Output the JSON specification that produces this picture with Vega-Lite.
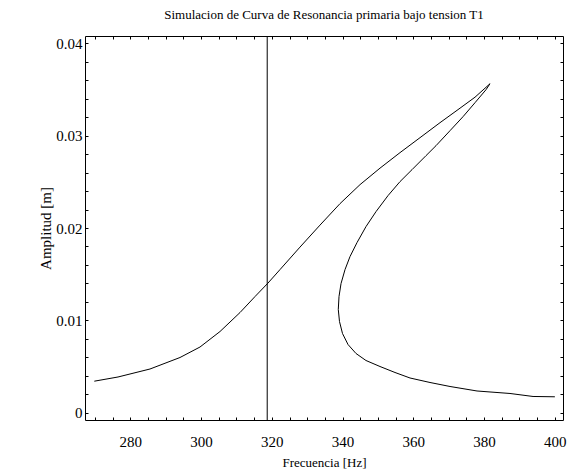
{
  "$schema": "https://vega.github.io/schema/vega-lite/v6.json",
  "autosize": "none",
  "width": 478,
  "height": 384,
  "padding": {"left": 85, "top": 36, "right": 11, "bottom": 53},
  "background": "white",
  "view": {"stroke": null},
  "config": {
    "font": "Liberation Serif",
    "axis": {"grid": false, "domainColor": "#000", "tickColor": "#000", "labelColor": "#000", "titleColor": "#000", "labelFont": "Liberation Serif", "titleFont": "Liberation Serif", "titleFontWeight": "normal", "tickSize": -3, "labelFontSize": 15}
  },
  "title": {"text": "Simulacion de Curva de Resonancia primaria bajo tension T1", "font": "Liberation Serif", "fontSize": 13, "fontWeight": "normal", "color": "#000", "offset": 14, "anchor": "middle"},
  "datasets": {
    "curve": [
      {"i": 1, "f": 269.83, "a": 0.003436},
      {"i": 2, "f": 276.53, "a": 0.00389},
      {"i": 3, "f": 285.57, "a": 0.004754},
      {"i": 4, "f": 294.05, "a": 0.005997},
      {"i": 5, "f": 299.70, "a": 0.007131},
      {"i": 6, "f": 305.36, "a": 0.008806},
      {"i": 7, "f": 311.01, "a": 0.010859},
      {"i": 8, "f": 315.25, "a": 0.012588},
      {"i": 9, "f": 318.92, "a": 0.014046},
      {"i": 10, "f": 322.32, "a": 0.015505},
      {"i": 11, "f": 327.97, "a": 0.017936},
      {"i": 12, "f": 333.62, "a": 0.020313},
      {"i": 13, "f": 339.28, "a": 0.022636},
      {"i": 14, "f": 344.93, "a": 0.024689},
      {"i": 15, "f": 350.58, "a": 0.026472},
      {"i": 16, "f": 356.23, "a": 0.028147},
      {"i": 17, "f": 361.89, "a": 0.029768},
      {"i": 18, "f": 367.54, "a": 0.031388},
      {"i": 19, "f": 373.19, "a": 0.032955},
      {"i": 20, "f": 377.43, "a": 0.034144},
      {"i": 21, "f": 381.67, "a": 0.035602},
      {"i": 22, "f": 380.54, "a": 0.034954},
      {"i": 23, "f": 377.43, "a": 0.033549},
      {"i": 24, "f": 374.04, "a": 0.032037},
      {"i": 25, "f": 370.37, "a": 0.030524},
      {"i": 26, "f": 366.41, "a": 0.028903},
      {"i": 27, "f": 363.58, "a": 0.027823},
      {"i": 28, "f": 359.63, "a": 0.02631},
      {"i": 29, "f": 356.23, "a": 0.025013},
      {"i": 30, "f": 352.84, "a": 0.023501},
      {"i": 31, "f": 349.45, "a": 0.021772},
      {"i": 32, "f": 346.62, "a": 0.020151},
      {"i": 33, "f": 344.08, "a": 0.018422},
      {"i": 34, "f": 342.10, "a": 0.01691},
      {"i": 35, "f": 340.69, "a": 0.015505},
      {"i": 36, "f": 339.56, "a": 0.013992},
      {"i": 37, "f": 338.99, "a": 0.012588},
      {"i": 38, "f": 338.79, "a": 0.011183},
      {"i": 39, "f": 339.13, "a": 0.009886},
      {"i": 40, "f": 339.98, "a": 0.00859},
      {"i": 41, "f": 341.54, "a": 0.007401},
      {"i": 42, "f": 343.80, "a": 0.006429},
      {"i": 43, "f": 346.62, "a": 0.005673},
      {"i": 44, "f": 350.58, "a": 0.005024},
      {"i": 45, "f": 354.82, "a": 0.004376},
      {"i": 46, "f": 359.06, "a": 0.003782},
      {"i": 47, "f": 364.71, "a": 0.003296},
      {"i": 48, "f": 370.37, "a": 0.002863},
      {"i": 49, "f": 378.00, "a": 0.002377},
      {"i": 50, "f": 387.32, "a": 0.002107},
      {"i": 51, "f": 393.83, "a": 0.001783},
      {"i": 52, "f": 400.0, "a": 0.00175}
    ],
    "marker": [{"f": 318.7}]
  },
  "resolve": {"axis": {"x": "independent", "y": "independent"}},
  "layer": [
    {
      "data": {"name": "curve"},
      "mark": {"type": "line", "color": "#000", "strokeWidth": 1, "interpolate": "linear"},
      "encoding": {
        "x": {"field": "f", "type": "quantitative", "scale": {"domain": [267.2, 402.3], "nice": false, "zero": false},
          "axis": {"orient": "bottom", "values": [270,275,280,285,290,295,300,305,310,315,320,325,330,335,340,345,350,355,360,365,370,375,380,385,390,395,400],
            "labelExpr": "datum.value % 20 == 0 ? datum.value : ''", "labelPadding": 17, "labelFlush": false,
            "title": "Frecuencia [Hz]", "titleFontSize": 13, "titleY": 42, "titleBaseline": "middle"}},
        "y": {"field": "a", "type": "quantitative", "scale": {"domain": [-0.00076, 0.04076], "nice": false, "zero": false},
          "axis": {"orient": "left", "values": [0,0.002,0.004,0.006,0.008,0.01,0.012,0.014,0.016,0.018,0.02,0.022,0.024,0.026,0.028,0.03,0.032,0.034,0.036,0.038,0.04],
            "labelExpr": "round(datum.value*1000) % 10 == 0 ? format(datum.value, '~g') : ''", "labelPadding": 6, "labelFlush": false,
            "title": "Amplitud [m]", "titleFontSize": 15, "titleX": -40, "titleBaseline": "middle"}},
        "order": {"field": "i", "type": "quantitative"}
      }
    },
    {
      "data": {"name": "marker"},
      "mark": {"type": "rule", "color": "#000", "strokeWidth": 1},
      "encoding": {
        "x": {"field": "f", "type": "quantitative", "axis": null}
      }
    },
    {
      "data": {"name": "curve"},
      "mark": {"type": "point", "opacity": 0},
      "encoding": {
        "x": {"field": "f", "type": "quantitative",
          "axis": {"orient": "top", "values": [270,275,280,285,290,295,300,305,310,315,320,325,330,335,340,345,350,355,360,365,370,375,380,385,390,395,400], "labels": false, "title": null}},
        "y": {"field": "a", "type": "quantitative",
          "axis": {"orient": "right", "values": [0,0.002,0.004,0.006,0.008,0.01,0.012,0.014,0.016,0.018,0.02,0.022,0.024,0.026,0.028,0.03,0.032,0.034,0.036,0.038,0.04], "labels": false, "title": null}}
      }
    }
  ]
}
